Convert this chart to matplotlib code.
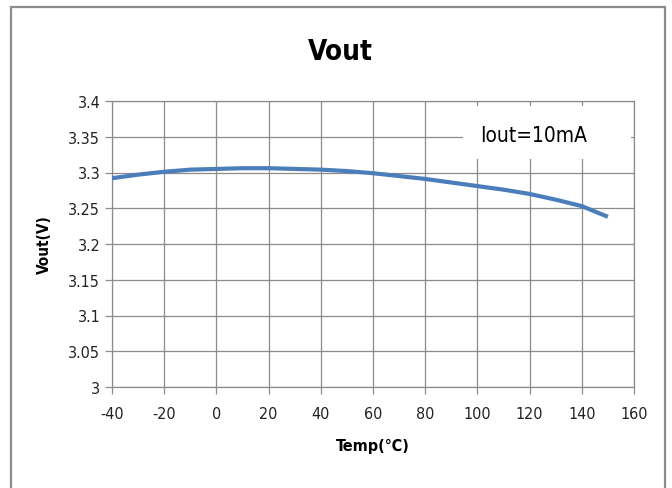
import matplotlib.pyplot as plt
from matplotlib.patches import Rectangle

temp = [-40, -30, -20, -10, 0, 10, 20, 30, 40, 50, 60, 70, 80, 90, 100, 110, 120, 130, 140, 150]
vout = [3.292, 3.297, 3.301, 3.304, 3.305, 3.306, 3.306, 3.305, 3.304, 3.302,
        3.299, 3.295, 3.291, 3.286, 3.281, 3.276, 3.270, 3.262, 3.253, 3.238]

xticks = [-40, -20, 0, 20, 40, 60, 80, 100, 120, 140, 160]
yticks = [3, 3.05, 3.1, 3.15, 3.2, 3.25, 3.3, 3.35, 3.4]
ytick_labels = ['3', '3.05', '3.1', '3.15', '3.2', '3.25', '3.3', '3.35', '3.4']

plt.rcParams['font.family'] = ['DejaVu Sans']
plt.rcParams['font.stretch'] = 'condensed'
plt.rcParams['axes.unicode_minus'] = False

fig = plt.figure(figsize=(6.72, 4.89), dpi=100)
ax = fig.add_axes([112/672, 1 - 388/489, (634 - 112)/672, (388 - 102)/489])

# outer chart border
fig.patches.append(Rectangle((11/672, -0.02), (665 - 11)/672, 1 - 8/489 + 0.02,
                             transform=fig.transFigure, fill=False,
                             edgecolor='#8c8c8c', linewidth=1.6))

ax.plot(temp, vout, color='#4a7ebb', linewidth=3, solid_capstyle='butt', zorder=3)

ax.set_xlim(-40, 160)
ax.set_ylim(3, 3.4)
ax.set_xticks(xticks)
ax.set_yticks(yticks)
ax.set_yticklabels(ytick_labels)
ax.grid(True, color='#8c8c8c', linewidth=0.9)
ax.set_axisbelow(True)

for s in ax.spines.values():
    s.set_color('#8c8c8c')
    s.set_linewidth(0.9)
ax.tick_params(axis='both', colors='#8c8c8c', length=5, width=0.9, labelsize=11.5,
               labelcolor='#222222')
ax.tick_params(axis='x', pad=9)

fig.text(340/672, 1 - 52/489, 'Vout', ha='center', va='center',
         fontsize=20, fontweight='bold')
ax.set_xlabel('Temp(℃)', fontsize=11.5, fontweight='bold', labelpad=12)
ax.set_ylabel('Vout(V)', fontsize=11, fontweight='bold', labelpad=12)

# white label box hiding the grid behind the annotation
ax.add_patch(Rectangle((94.5, 3.319), 64.5, 0.074, facecolor='white',
                       edgecolor='none', zorder=1))
ax.text(121.5, 3.352, 'Iout=10mA', ha='center', va='center', fontsize=15, zorder=2)

fig.savefig('out.png', dpi=100)
